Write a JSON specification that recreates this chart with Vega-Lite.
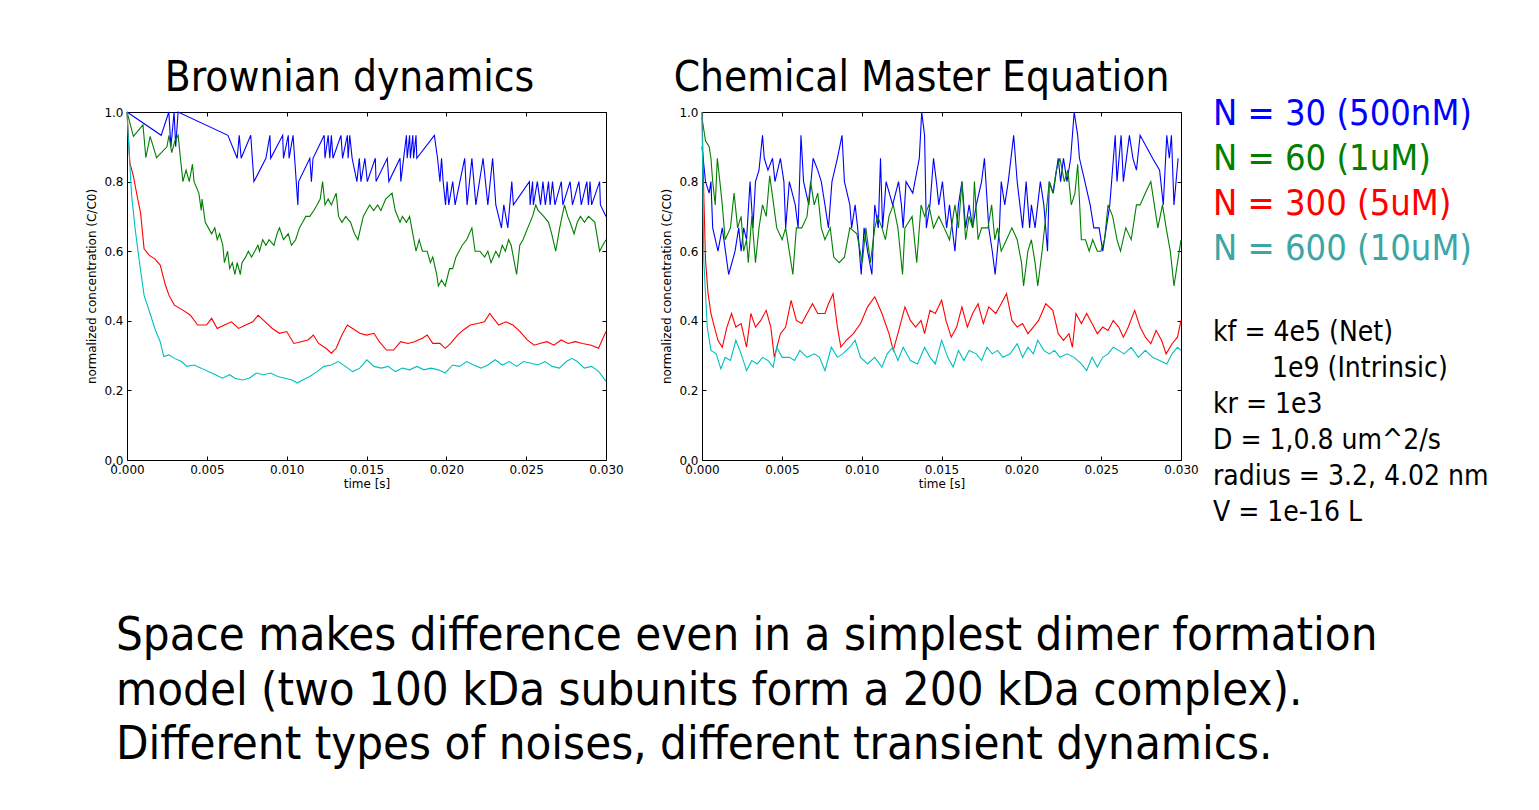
{
"$schema": "https://vega.github.io/schema/vega-lite/v6.json",
"background": "white",
"padding": {"left": 85, "top": 57, "right": 5, "bottom": 5},
"config": {
  "font": "DejaVu Sans",
  "view": {"stroke": null},
  "axis": {"grid": false, "labelFontSize": 12, "titleFontSize": 12, "titleFontWeight": "normal", "labelColor": "black", "titleColor": "black", "domainColor": "black", "tickColor": "black", "labelFlush": false, "labelOverlap": false, "labelBound": false, "tickSize": -4, "labelPadding": 8}
},
"resolve": {"scale": {"color": "independent"}},
"datasets": {
"bd": [
{"time":0,"conc":1,"N":"30"},{"time":0.00214,"conc":0.933,"N":"30"},{"time":0.00262,"conc":1,"N":"30"},{"time":0.00275,"conc":0.9,"N":"30"},{"time":0.00295,"conc":1,"N":"30"},{"time":0.00305,"conc":0.9,"N":"30"},{"time":0.0032,"conc":1,"N":"30"},{"time":0.00632,"conc":0.933,"N":"30"},{"time":0.0069,"conc":0.867,"N":"30"},{"time":0.00703,"conc":0.933,"N":"30"},{"time":0.00715,"conc":0.867,"N":"30"},{"time":0.00775,"conc":0.933,"N":"30"},{"time":0.00795,"conc":0.8,"N":"30"},{"time":0.0087,"conc":0.867,"N":"30"},{"time":0.00895,"conc":0.933,"N":"30"},{"time":0.009,"conc":0.867,"N":"30"},{"time":0.00975,"conc":0.933,"N":"30"},{"time":0.0098,"conc":0.867,"N":"30"},{"time":0.0101,"conc":0.933,"N":"30"},{"time":0.01015,"conc":0.867,"N":"30"},{"time":0.0104,"conc":0.933,"N":"30"},{"time":0.0107,"conc":0.733,"N":"30"},{"time":0.01075,"conc":0.8,"N":"30"},{"time":0.01145,"conc":0.867,"N":"30"},{"time":0.01155,"conc":0.8,"N":"30"},{"time":0.01165,"conc":0.867,"N":"30"},{"time":0.01235,"conc":0.933,"N":"30"},{"time":0.0124,"conc":0.867,"N":"30"},{"time":0.0126,"conc":0.933,"N":"30"},{"time":0.0127,"conc":0.867,"N":"30"},{"time":0.0128,"conc":0.933,"N":"30"},{"time":0.0129,"conc":0.867,"N":"30"},{"time":0.0134,"conc":0.933,"N":"30"},{"time":0.0135,"conc":0.867,"N":"30"},{"time":0.0138,"conc":0.933,"N":"30"},{"time":0.01385,"conc":0.867,"N":"30"},{"time":0.01395,"conc":0.933,"N":"30"},{"time":0.0141,"conc":0.867,"N":"30"},{"time":0.0144,"conc":0.8,"N":"30"},{"time":0.01455,"conc":0.867,"N":"30"},{"time":0.01465,"conc":0.8,"N":"30"},{"time":0.0149,"conc":0.867,"N":"30"},{"time":0.01505,"conc":0.8,"N":"30"},{"time":0.01555,"conc":0.867,"N":"30"},{"time":0.0156,"conc":0.8,"N":"30"},{"time":0.0163,"conc":0.867,"N":"30"},{"time":0.0164,"conc":0.8,"N":"30"},{"time":0.0171,"conc":0.867,"N":"30"},{"time":0.01715,"conc":0.8,"N":"30"},{"time":0.0175,"conc":0.933,"N":"30"},{"time":0.01755,"conc":0.867,"N":"30"},{"time":0.0177,"conc":0.933,"N":"30"},{"time":0.01775,"conc":0.867,"N":"30"},{"time":0.0179,"conc":0.933,"N":"30"},{"time":0.01795,"conc":0.867,"N":"30"},{"time":0.0181,"conc":0.933,"N":"30"},{"time":0.01815,"conc":0.867,"N":"30"},{"time":0.01925,"conc":0.933,"N":"30"},{"time":0.01945,"conc":0.867,"N":"30"},{"time":0.0196,"conc":0.8,"N":"30"},{"time":0.0197,"conc":0.867,"N":"30"},{"time":0.0198,"conc":0.8,"N":"30"},{"time":0.01995,"conc":0.733,"N":"30"},{"time":0.02005,"conc":0.8,"N":"30"},{"time":0.02015,"conc":0.733,"N":"30"},{"time":0.0204,"conc":0.8,"N":"30"},{"time":0.02055,"conc":0.733,"N":"30"},{"time":0.02115,"conc":0.867,"N":"30"},{"time":0.0213,"conc":0.733,"N":"30"},{"time":0.0216,"conc":0.867,"N":"30"},{"time":0.02185,"conc":0.733,"N":"30"},{"time":0.0223,"conc":0.867,"N":"30"},{"time":0.0226,"conc":0.733,"N":"30"},{"time":0.0229,"conc":0.867,"N":"30"},{"time":0.0231,"conc":0.733,"N":"30"},{"time":0.02345,"conc":0.667,"N":"30"},{"time":0.0236,"conc":0.733,"N":"30"},{"time":0.02385,"conc":0.667,"N":"30"},{"time":0.0241,"conc":0.8,"N":"30"},{"time":0.0242,"conc":0.733,"N":"30"},{"time":0.0252,"conc":0.8,"N":"30"},{"time":0.02525,"conc":0.733,"N":"30"},{"time":0.0254,"conc":0.8,"N":"30"},{"time":0.02545,"conc":0.733,"N":"30"},{"time":0.0257,"conc":0.8,"N":"30"},{"time":0.0259,"conc":0.733,"N":"30"},{"time":0.02605,"conc":0.8,"N":"30"},{"time":0.0262,"conc":0.733,"N":"30"},{"time":0.0264,"conc":0.8,"N":"30"},{"time":0.0265,"conc":0.733,"N":"30"},{"time":0.02665,"conc":0.8,"N":"30"},{"time":0.0268,"conc":0.733,"N":"30"},{"time":0.0272,"conc":0.8,"N":"30"},{"time":0.0273,"conc":0.733,"N":"30"},{"time":0.02775,"conc":0.8,"N":"30"},{"time":0.0279,"conc":0.733,"N":"30"},{"time":0.0283,"conc":0.8,"N":"30"},{"time":0.02845,"conc":0.733,"N":"30"},{"time":0.0288,"conc":0.8,"N":"30"},{"time":0.0289,"conc":0.733,"N":"30"},{"time":0.029,"conc":0.8,"N":"30"},{"time":0.0291,"conc":0.733,"N":"30"},{"time":0.0296,"conc":0.8,"N":"30"},{"time":0.02965,"conc":0.733,"N":"30"},{"time":0.03,"conc":0.7,"N":"30"},
{"time":0,"conc":1,"N":"60"},{"time":0.0004,"conc":0.93,"N":"60"},{"time":0.001,"conc":0.963,"N":"60"},{"time":0.00118,"conc":0.869,"N":"60"},{"time":0.00145,"conc":0.93,"N":"60"},{"time":0.00185,"conc":0.869,"N":"60"},{"time":0.0025,"conc":0.9,"N":"60"},{"time":0.00263,"conc":0.933,"N":"60"},{"time":0.0028,"conc":0.883,"N":"60"},{"time":0.003,"conc":0.917,"N":"60"},{"time":0.0032,"conc":0.933,"N":"60"},{"time":0.0035,"conc":0.8,"N":"60"},{"time":0.0037,"conc":0.833,"N":"60"},{"time":0.0039,"conc":0.8,"N":"60"},{"time":0.0041,"conc":0.85,"N":"60"},{"time":0.0042,"conc":0.8,"N":"60"},{"time":0.0045,"conc":0.767,"N":"60"},{"time":0.00465,"conc":0.717,"N":"60"},{"time":0.0047,"conc":0.75,"N":"60"},{"time":0.0049,"conc":0.683,"N":"60"},{"time":0.0051,"conc":0.667,"N":"60"},{"time":0.0053,"conc":0.65,"N":"60"},{"time":0.0055,"conc":0.667,"N":"60"},{"time":0.00565,"conc":0.633,"N":"60"},{"time":0.0058,"conc":0.65,"N":"60"},{"time":0.006,"conc":0.617,"N":"60"},{"time":0.0061,"conc":0.567,"N":"60"},{"time":0.0063,"conc":0.6,"N":"60"},{"time":0.00643,"conc":0.55,"N":"60"},{"time":0.0066,"conc":0.567,"N":"60"},{"time":0.00676,"conc":0.533,"N":"60"},{"time":0.0069,"conc":0.567,"N":"60"},{"time":0.0071,"conc":0.533,"N":"60"},{"time":0.0072,"conc":0.567,"N":"60"},{"time":0.00743,"conc":0.583,"N":"60"},{"time":0.0076,"conc":0.6,"N":"60"},{"time":0.0078,"conc":0.583,"N":"60"},{"time":0.008,"conc":0.6,"N":"60"},{"time":0.0082,"conc":0.617,"N":"60"},{"time":0.0083,"conc":0.6,"N":"60"},{"time":0.0085,"conc":0.633,"N":"60"},{"time":0.0087,"conc":0.617,"N":"60"},{"time":0.0089,"conc":0.633,"N":"60"},{"time":0.0092,"conc":0.617,"N":"60"},{"time":0.0094,"conc":0.65,"N":"60"},{"time":0.00955,"conc":0.667,"N":"60"},{"time":0.0098,"conc":0.633,"N":"60"},{"time":0.0101,"conc":0.65,"N":"60"},{"time":0.0103,"conc":0.617,"N":"60"},{"time":0.01056,"conc":0.633,"N":"60"},{"time":0.0108,"conc":0.667,"N":"60"},{"time":0.011,"conc":0.683,"N":"60"},{"time":0.0112,"conc":0.7,"N":"60"},{"time":0.01145,"conc":0.7,"N":"60"},{"time":0.0117,"conc":0.717,"N":"60"},{"time":0.0119,"conc":0.733,"N":"60"},{"time":0.0121,"conc":0.75,"N":"60"},{"time":0.01225,"conc":0.8,"N":"60"},{"time":0.0124,"conc":0.733,"N":"60"},{"time":0.0126,"conc":0.75,"N":"60"},{"time":0.0128,"conc":0.733,"N":"60"},{"time":0.0131,"conc":0.767,"N":"60"},{"time":0.01325,"conc":0.7,"N":"60"},{"time":0.01346,"conc":0.683,"N":"60"},{"time":0.0137,"conc":0.7,"N":"60"},{"time":0.014,"conc":0.683,"N":"60"},{"time":0.01425,"conc":0.65,"N":"60"},{"time":0.01446,"conc":0.633,"N":"60"},{"time":0.0148,"conc":0.7,"N":"60"},{"time":0.015,"conc":0.717,"N":"60"},{"time":0.0152,"conc":0.733,"N":"60"},{"time":0.01545,"conc":0.717,"N":"60"},{"time":0.0157,"conc":0.733,"N":"60"},{"time":0.0159,"conc":0.717,"N":"60"},{"time":0.0162,"conc":0.75,"N":"60"},{"time":0.0166,"conc":0.767,"N":"60"},{"time":0.0168,"conc":0.717,"N":"60"},{"time":0.0171,"conc":0.683,"N":"60"},{"time":0.01725,"conc":0.7,"N":"60"},{"time":0.0175,"conc":0.683,"N":"60"},{"time":0.0177,"conc":0.7,"N":"60"},{"time":0.0179,"conc":0.65,"N":"60"},{"time":0.0181,"conc":0.6,"N":"60"},{"time":0.0183,"conc":0.633,"N":"60"},{"time":0.0185,"conc":0.6,"N":"60"},{"time":0.0188,"conc":0.6,"N":"60"},{"time":0.019,"conc":0.567,"N":"60"},{"time":0.01915,"conc":0.583,"N":"60"},{"time":0.0194,"conc":0.533,"N":"60"},{"time":0.0195,"conc":0.5,"N":"60"},{"time":0.0197,"conc":0.517,"N":"60"},{"time":0.01993,"conc":0.5,"N":"60"},{"time":0.0202,"conc":0.55,"N":"60"},{"time":0.0204,"conc":0.55,"N":"60"},{"time":0.0206,"conc":0.583,"N":"60"},{"time":0.0208,"conc":0.6,"N":"60"},{"time":0.021,"conc":0.617,"N":"60"},{"time":0.02127,"conc":0.633,"N":"60"},{"time":0.0216,"conc":0.667,"N":"60"},{"time":0.0218,"conc":0.6,"N":"60"},{"time":0.0221,"conc":0.6,"N":"60"},{"time":0.0224,"conc":0.583,"N":"60"},{"time":0.0226,"conc":0.6,"N":"60"},{"time":0.0228,"conc":0.567,"N":"60"},{"time":0.0231,"conc":0.6,"N":"60"},{"time":0.0233,"conc":0.583,"N":"60"},{"time":0.0235,"conc":0.617,"N":"60"},{"time":0.0237,"conc":0.6,"N":"60"},{"time":0.0239,"conc":0.633,"N":"60"},{"time":0.02406,"conc":0.617,"N":"60"},{"time":0.0244,"conc":0.533,"N":"60"},{"time":0.0246,"conc":0.617,"N":"60"},{"time":0.0248,"conc":0.633,"N":"60"},{"time":0.0251,"conc":0.667,"N":"60"},{"time":0.0254,"conc":0.7,"N":"60"},{"time":0.0256,"conc":0.733,"N":"60"},{"time":0.02575,"conc":0.717,"N":"60"},{"time":0.0261,"conc":0.7,"N":"60"},{"time":0.0264,"conc":0.683,"N":"60"},{"time":0.0266,"conc":0.65,"N":"60"},{"time":0.02685,"conc":0.6,"N":"60"},{"time":0.0271,"conc":0.667,"N":"60"},{"time":0.0274,"conc":0.733,"N":"60"},{"time":0.0276,"conc":0.7,"N":"60"},{"time":0.02775,"conc":0.683,"N":"60"},{"time":0.028,"conc":0.65,"N":"60"},{"time":0.0282,"conc":0.683,"N":"60"},{"time":0.0284,"conc":0.7,"N":"60"},{"time":0.02865,"conc":0.683,"N":"60"},{"time":0.0289,"conc":0.7,"N":"60"},{"time":0.0293,"conc":0.683,"N":"60"},{"time":0.0296,"conc":0.6,"N":"60"},{"time":0.0298,"conc":0.617,"N":"60"},{"time":0.03,"conc":0.633,"N":"60"},
{"time":0,"conc":1,"N":"300"},{"time":0.00018,"conc":0.854,"N":"300"},{"time":0.0004,"conc":0.816,"N":"300"},{"time":0.00063,"conc":0.76,"N":"300"},{"time":0.00085,"conc":0.71,"N":"300"},{"time":0.00107,"conc":0.607,"N":"300"},{"time":0.0014,"conc":0.588,"N":"300"},{"time":0.00174,"conc":0.578,"N":"300"},{"time":0.00208,"conc":0.56,"N":"300"},{"time":0.00241,"conc":0.502,"N":"300"},{"time":0.00263,"conc":0.473,"N":"300"},{"time":0.00297,"conc":0.445,"N":"300"},{"time":0.00353,"conc":0.43,"N":"300"},{"time":0.00397,"conc":0.416,"N":"300"},{"time":0.00442,"conc":0.388,"N":"300"},{"time":0.00498,"conc":0.388,"N":"300"},{"time":0.0053,"conc":0.407,"N":"300"},{"time":0.00565,"conc":0.378,"N":"300"},{"time":0.0061,"conc":0.388,"N":"300"},{"time":0.00654,"conc":0.397,"N":"300"},{"time":0.00699,"conc":0.378,"N":"300"},{"time":0.00743,"conc":0.388,"N":"300"},{"time":0.00788,"conc":0.397,"N":"300"},{"time":0.00821,"conc":0.416,"N":"300"},{"time":0.00866,"conc":0.397,"N":"300"},{"time":0.0091,"conc":0.378,"N":"300"},{"time":0.00955,"conc":0.364,"N":"300"},{"time":0.01,"conc":0.369,"N":"300"},{"time":0.01045,"conc":0.335,"N":"300"},{"time":0.0109,"conc":0.34,"N":"300"},{"time":0.01134,"conc":0.345,"N":"300"},{"time":0.01167,"conc":0.359,"N":"300"},{"time":0.012,"conc":0.335,"N":"300"},{"time":0.01246,"conc":0.321,"N":"300"},{"time":0.0128,"conc":0.307,"N":"300"},{"time":0.0131,"conc":0.321,"N":"300"},{"time":0.01346,"conc":0.359,"N":"300"},{"time":0.0138,"conc":0.388,"N":"300"},{"time":0.01413,"conc":0.378,"N":"300"},{"time":0.01458,"conc":0.364,"N":"300"},{"time":0.015,"conc":0.359,"N":"300"},{"time":0.01547,"conc":0.364,"N":"300"},{"time":0.0158,"conc":0.34,"N":"300"},{"time":0.01625,"conc":0.316,"N":"300"},{"time":0.0167,"conc":0.316,"N":"300"},{"time":0.01714,"conc":0.34,"N":"300"},{"time":0.0176,"conc":0.335,"N":"300"},{"time":0.018,"conc":0.34,"N":"300"},{"time":0.0185,"conc":0.35,"N":"300"},{"time":0.0188,"conc":0.359,"N":"300"},{"time":0.01915,"conc":0.335,"N":"300"},{"time":0.0196,"conc":0.335,"N":"300"},{"time":0.01993,"conc":0.321,"N":"300"},{"time":0.02027,"conc":0.335,"N":"300"},{"time":0.0207,"conc":0.359,"N":"300"},{"time":0.02105,"conc":0.373,"N":"300"},{"time":0.0215,"conc":0.388,"N":"300"},{"time":0.02194,"conc":0.392,"N":"300"},{"time":0.02239,"conc":0.397,"N":"300"},{"time":0.02272,"conc":0.421,"N":"300"},{"time":0.02295,"conc":0.407,"N":"300"},{"time":0.02328,"conc":0.388,"N":"300"},{"time":0.02373,"conc":0.397,"N":"300"},{"time":0.02417,"conc":0.388,"N":"300"},{"time":0.02462,"conc":0.369,"N":"300"},{"time":0.02507,"conc":0.345,"N":"300"},{"time":0.0255,"conc":0.33,"N":"300"},{"time":0.02585,"conc":0.335,"N":"300"},{"time":0.0263,"conc":0.34,"N":"300"},{"time":0.02674,"conc":0.33,"N":"300"},{"time":0.02719,"conc":0.345,"N":"300"},{"time":0.02763,"conc":0.335,"N":"300"},{"time":0.02808,"conc":0.34,"N":"300"},{"time":0.02853,"conc":0.335,"N":"300"},{"time":0.02908,"conc":0.33,"N":"300"},{"time":0.02953,"conc":0.321,"N":"300"},{"time":0.03,"conc":0.369,"N":"300"},
{"time":0,"conc":1,"N":"600"},{"time":0.00011,"conc":0.902,"N":"600"},{"time":0.00029,"conc":0.76,"N":"600"},{"time":0.00051,"conc":0.664,"N":"600"},{"time":0.00078,"conc":0.569,"N":"600"},{"time":0.00107,"conc":0.473,"N":"600"},{"time":0.00141,"conc":0.426,"N":"600"},{"time":0.00174,"conc":0.378,"N":"600"},{"time":0.00208,"conc":0.34,"N":"600"},{"time":0.0023,"conc":0.297,"N":"600"},{"time":0.00263,"conc":0.302,"N":"600"},{"time":0.00297,"conc":0.292,"N":"600"},{"time":0.00342,"conc":0.283,"N":"600"},{"time":0.00375,"conc":0.269,"N":"600"},{"time":0.0042,"conc":0.273,"N":"600"},{"time":0.00464,"conc":0.264,"N":"600"},{"time":0.00509,"conc":0.254,"N":"600"},{"time":0.00554,"conc":0.245,"N":"600"},{"time":0.00598,"conc":0.235,"N":"600"},{"time":0.00643,"conc":0.245,"N":"600"},{"time":0.00676,"conc":0.235,"N":"600"},{"time":0.00721,"conc":0.23,"N":"600"},{"time":0.00766,"conc":0.235,"N":"600"},{"time":0.0081,"conc":0.25,"N":"600"},{"time":0.00855,"conc":0.245,"N":"600"},{"time":0.009,"conc":0.25,"N":"600"},{"time":0.00944,"conc":0.24,"N":"600"},{"time":0.00989,"conc":0.235,"N":"600"},{"time":0.01033,"conc":0.23,"N":"600"},{"time":0.01067,"conc":0.221,"N":"600"},{"time":0.011,"conc":0.23,"N":"600"},{"time":0.01145,"conc":0.24,"N":"600"},{"time":0.0119,"conc":0.254,"N":"600"},{"time":0.01234,"conc":0.269,"N":"600"},{"time":0.01279,"conc":0.273,"N":"600"},{"time":0.01324,"conc":0.283,"N":"600"},{"time":0.01368,"conc":0.269,"N":"600"},{"time":0.01413,"conc":0.254,"N":"600"},{"time":0.01458,"conc":0.264,"N":"600"},{"time":0.01502,"conc":0.288,"N":"600"},{"time":0.01547,"conc":0.269,"N":"600"},{"time":0.01592,"conc":0.264,"N":"600"},{"time":0.01636,"conc":0.269,"N":"600"},{"time":0.0168,"conc":0.254,"N":"600"},{"time":0.01725,"conc":0.264,"N":"600"},{"time":0.0177,"conc":0.259,"N":"600"},{"time":0.01815,"conc":0.269,"N":"600"},{"time":0.0186,"conc":0.259,"N":"600"},{"time":0.01904,"conc":0.264,"N":"600"},{"time":0.0195,"conc":0.259,"N":"600"},{"time":0.01993,"conc":0.25,"N":"600"},{"time":0.0204,"conc":0.273,"N":"600"},{"time":0.02083,"conc":0.269,"N":"600"},{"time":0.02127,"conc":0.283,"N":"600"},{"time":0.02172,"conc":0.273,"N":"600"},{"time":0.02217,"conc":0.264,"N":"600"},{"time":0.0226,"conc":0.273,"N":"600"},{"time":0.02306,"conc":0.288,"N":"600"},{"time":0.0235,"conc":0.273,"N":"600"},{"time":0.02395,"conc":0.283,"N":"600"},{"time":0.0244,"conc":0.269,"N":"600"},{"time":0.02484,"conc":0.283,"N":"600"},{"time":0.0253,"conc":0.278,"N":"600"},{"time":0.02574,"conc":0.273,"N":"600"},{"time":0.02618,"conc":0.283,"N":"600"},{"time":0.02663,"conc":0.269,"N":"600"},{"time":0.02708,"conc":0.264,"N":"600"},{"time":0.02752,"conc":0.283,"N":"600"},{"time":0.02786,"conc":0.292,"N":"600"},{"time":0.0282,"conc":0.283,"N":"600"},{"time":0.02864,"conc":0.264,"N":"600"},{"time":0.0291,"conc":0.269,"N":"600"},{"time":0.02955,"conc":0.254,"N":"600"},{"time":0.03,"conc":0.226,"N":"600"}
],
"cme": [
{"time":0,"conc":0.9,"N":"30"},{"time":0.00022,"conc":0.8,"N":"30"},{"time":0.00045,"conc":0.767,"N":"30"},{"time":0.00056,"conc":0.8,"N":"30"},{"time":0.00067,"conc":0.667,"N":"30"},{"time":0.001,"conc":0.6,"N":"30"},{"time":0.00127,"conc":0.667,"N":"30"},{"time":0.00167,"conc":0.533,"N":"30"},{"time":0.00207,"conc":0.6,"N":"30"},{"time":0.0023,"conc":0.667,"N":"30"},{"time":0.00245,"conc":0.6,"N":"30"},{"time":0.00261,"conc":0.667,"N":"30"},{"time":0.00279,"conc":0.633,"N":"30"},{"time":0.00301,"conc":0.8,"N":"30"},{"time":0.00319,"conc":0.667,"N":"30"},{"time":0.00335,"conc":0.8,"N":"30"},{"time":0.00357,"conc":0.833,"N":"30"},{"time":0.00379,"conc":0.933,"N":"30"},{"time":0.0039,"conc":0.867,"N":"30"},{"time":0.00413,"conc":0.833,"N":"30"},{"time":0.00442,"conc":0.867,"N":"30"},{"time":0.00457,"conc":0.8,"N":"30"},{"time":0.00491,"conc":0.867,"N":"30"},{"time":0.00513,"conc":0.8,"N":"30"},{"time":0.00524,"conc":0.667,"N":"30"},{"time":0.00547,"conc":0.8,"N":"30"},{"time":0.00584,"conc":0.733,"N":"30"},{"time":0.00602,"conc":0.667,"N":"30"},{"time":0.0062,"conc":0.933,"N":"30"},{"time":0.00636,"conc":0.8,"N":"30"},{"time":0.00669,"conc":0.733,"N":"30"},{"time":0.00696,"conc":0.867,"N":"30"},{"time":0.00725,"conc":0.833,"N":"30"},{"time":0.00747,"conc":0.8,"N":"30"},{"time":0.0077,"conc":0.733,"N":"30"},{"time":0.00792,"conc":0.667,"N":"30"},{"time":0.00814,"conc":0.8,"N":"30"},{"time":0.00848,"conc":0.867,"N":"30"},{"time":0.00877,"conc":0.933,"N":"30"},{"time":0.00892,"conc":0.8,"N":"30"},{"time":0.00926,"conc":0.733,"N":"30"},{"time":0.00937,"conc":0.667,"N":"30"},{"time":0.00959,"conc":0.733,"N":"30"},{"time":0.00975,"conc":0.667,"N":"30"},{"time":0.00997,"conc":0.533,"N":"30"},{"time":0.01015,"conc":0.667,"N":"30"},{"time":0.01037,"conc":0.6,"N":"30"},{"time":0.01064,"conc":0.533,"N":"30"},{"time":0.01082,"conc":0.733,"N":"30"},{"time":0.01104,"conc":0.667,"N":"30"},{"time":0.01118,"conc":0.867,"N":"30"},{"time":0.01131,"conc":0.667,"N":"30"},{"time":0.01153,"conc":0.8,"N":"30"},{"time":0.01194,"conc":0.733,"N":"30"},{"time":0.01231,"conc":0.8,"N":"30"},{"time":0.01249,"conc":0.733,"N":"30"},{"time":0.0126,"conc":0.667,"N":"30"},{"time":0.01278,"conc":0.8,"N":"30"},{"time":0.0132,"conc":0.767,"N":"30"},{"time":0.01361,"conc":0.867,"N":"30"},{"time":0.01376,"conc":1,"N":"30"},{"time":0.01394,"conc":0.933,"N":"30"},{"time":0.01405,"conc":0.667,"N":"30"},{"time":0.01428,"conc":0.733,"N":"30"},{"time":0.0145,"conc":0.867,"N":"30"},{"time":0.01468,"conc":0.8,"N":"30"},{"time":0.01483,"conc":0.733,"N":"30"},{"time":0.01506,"conc":0.8,"N":"30"},{"time":0.01532,"conc":0.667,"N":"30"},{"time":0.0155,"conc":0.733,"N":"30"},{"time":0.01584,"conc":0.6,"N":"30"},{"time":0.01606,"conc":0.733,"N":"30"},{"time":0.01628,"conc":0.8,"N":"30"},{"time":0.01651,"conc":0.667,"N":"30"},{"time":0.01673,"conc":0.733,"N":"30"},{"time":0.01695,"conc":0.667,"N":"30"},{"time":0.01718,"conc":0.733,"N":"30"},{"time":0.01751,"conc":0.8,"N":"30"},{"time":0.01769,"conc":0.867,"N":"30"},{"time":0.01796,"conc":0.667,"N":"30"},{"time":0.01818,"conc":0.6,"N":"30"},{"time":0.01836,"conc":0.533,"N":"30"},{"time":0.01863,"conc":0.667,"N":"30"},{"time":0.01874,"conc":0.8,"N":"30"},{"time":0.01896,"conc":0.733,"N":"30"},{"time":0.01918,"conc":0.8,"N":"30"},{"time":0.01952,"conc":0.933,"N":"30"},{"time":0.01974,"conc":0.8,"N":"30"},{"time":0.02008,"conc":0.667,"N":"30"},{"time":0.0203,"conc":0.8,"N":"30"},{"time":0.02052,"conc":0.667,"N":"30"},{"time":0.02063,"conc":0.733,"N":"30"},{"time":0.02086,"conc":0.667,"N":"30"},{"time":0.02119,"conc":0.8,"N":"30"},{"time":0.02141,"conc":0.733,"N":"30"},{"time":0.02164,"conc":0.6,"N":"30"},{"time":0.02175,"conc":0.8,"N":"30"},{"time":0.022,"conc":0.767,"N":"30"},{"time":0.02231,"conc":0.867,"N":"30"},{"time":0.02246,"conc":0.8,"N":"30"},{"time":0.02264,"conc":0.867,"N":"30"},{"time":0.02286,"conc":0.8,"N":"30"},{"time":0.02309,"conc":0.867,"N":"30"},{"time":0.02331,"conc":1,"N":"30"},{"time":0.02353,"conc":0.933,"N":"30"},{"time":0.02364,"conc":0.867,"N":"30"},{"time":0.02398,"conc":0.8,"N":"30"},{"time":0.02431,"conc":0.733,"N":"30"},{"time":0.02454,"conc":0.667,"N":"30"},{"time":0.02487,"conc":0.667,"N":"30"},{"time":0.0251,"conc":0.6,"N":"30"},{"time":0.02532,"conc":0.667,"N":"30"},{"time":0.02554,"conc":0.733,"N":"30"},{"time":0.02588,"conc":0.933,"N":"30"},{"time":0.02599,"conc":0.8,"N":"30"},{"time":0.02625,"conc":0.933,"N":"30"},{"time":0.02639,"conc":0.8,"N":"30"},{"time":0.02677,"conc":0.933,"N":"30"},{"time":0.02699,"conc":0.867,"N":"30"},{"time":0.02721,"conc":0.833,"N":"30"},{"time":0.02744,"conc":0.933,"N":"30"},{"time":0.02822,"conc":0.867,"N":"30"},{"time":0.02866,"conc":0.833,"N":"30"},{"time":0.02889,"conc":0.733,"N":"30"},{"time":0.02911,"conc":0.933,"N":"30"},{"time":0.02927,"conc":0.867,"N":"30"},{"time":0.0294,"conc":0.933,"N":"30"},{"time":0.02956,"conc":0.733,"N":"30"},{"time":0.02982,"conc":0.867,"N":"30"},
{"time":0,"conc":0.983,"N":"60"},{"time":0.00022,"conc":0.917,"N":"60"},{"time":0.00045,"conc":0.9,"N":"60"},{"time":0.00056,"conc":0.867,"N":"60"},{"time":0.00067,"conc":0.8,"N":"60"},{"time":0.00083,"conc":0.733,"N":"60"},{"time":0.00096,"conc":0.867,"N":"60"},{"time":0.00112,"conc":0.8,"N":"60"},{"time":0.00127,"conc":0.733,"N":"60"},{"time":0.00145,"conc":0.633,"N":"60"},{"time":0.00178,"conc":0.667,"N":"60"},{"time":0.00201,"conc":0.767,"N":"60"},{"time":0.00223,"conc":0.667,"N":"60"},{"time":0.00245,"conc":0.7,"N":"60"},{"time":0.00261,"conc":0.6,"N":"60"},{"time":0.00279,"conc":0.633,"N":"60"},{"time":0.0029,"conc":0.567,"N":"60"},{"time":0.00312,"conc":0.7,"N":"60"},{"time":0.00335,"conc":0.567,"N":"60"},{"time":0.00357,"conc":0.667,"N":"60"},{"time":0.00379,"conc":0.733,"N":"60"},{"time":0.00402,"conc":0.7,"N":"60"},{"time":0.00424,"conc":0.817,"N":"60"},{"time":0.00439,"conc":0.767,"N":"60"},{"time":0.00468,"conc":0.667,"N":"60"},{"time":0.00502,"conc":0.633,"N":"60"},{"time":0.00524,"conc":0.667,"N":"60"},{"time":0.00569,"conc":0.533,"N":"60"},{"time":0.00591,"conc":0.667,"N":"60"},{"time":0.00625,"conc":0.667,"N":"60"},{"time":0.00658,"conc":0.7,"N":"60"},{"time":0.0068,"conc":0.8,"N":"60"},{"time":0.00703,"conc":0.733,"N":"60"},{"time":0.00725,"conc":0.767,"N":"60"},{"time":0.00747,"conc":0.667,"N":"60"},{"time":0.0077,"conc":0.633,"N":"60"},{"time":0.00803,"conc":0.667,"N":"60"},{"time":0.00825,"conc":0.583,"N":"60"},{"time":0.00859,"conc":0.567,"N":"60"},{"time":0.00892,"conc":0.583,"N":"60"},{"time":0.00926,"conc":0.667,"N":"60"},{"time":0.0097,"conc":0.65,"N":"60"},{"time":0.01004,"conc":0.567,"N":"60"},{"time":0.01026,"conc":0.667,"N":"60"},{"time":0.01055,"conc":0.567,"N":"60"},{"time":0.01082,"conc":0.667,"N":"60"},{"time":0.011,"conc":0.7,"N":"60"},{"time":0.01127,"conc":0.667,"N":"60"},{"time":0.01149,"conc":0.633,"N":"60"},{"time":0.01171,"conc":0.7,"N":"60"},{"time":0.01198,"conc":0.733,"N":"60"},{"time":0.01227,"conc":0.667,"N":"60"},{"time":0.01256,"conc":0.533,"N":"60"},{"time":0.01271,"conc":0.667,"N":"60"},{"time":0.01316,"conc":0.7,"N":"60"},{"time":0.01345,"conc":0.567,"N":"60"},{"time":0.01372,"conc":0.733,"N":"60"},{"time":0.01394,"conc":0.7,"N":"60"},{"time":0.01421,"conc":0.733,"N":"60"},{"time":0.0145,"conc":0.667,"N":"60"},{"time":0.01483,"conc":0.7,"N":"60"},{"time":0.01517,"conc":0.667,"N":"60"},{"time":0.0155,"conc":0.633,"N":"60"},{"time":0.01584,"conc":0.733,"N":"60"},{"time":0.01606,"conc":0.667,"N":"60"},{"time":0.01628,"conc":0.8,"N":"60"},{"time":0.01651,"conc":0.633,"N":"60"},{"time":0.01673,"conc":0.7,"N":"60"},{"time":0.01695,"conc":0.667,"N":"60"},{"time":0.01706,"conc":0.8,"N":"60"},{"time":0.01729,"conc":0.633,"N":"60"},{"time":0.01751,"conc":0.667,"N":"60"},{"time":0.01791,"conc":0.667,"N":"60"},{"time":0.01814,"conc":0.733,"N":"60"},{"time":0.01834,"conc":0.633,"N":"60"},{"time":0.01851,"conc":0.667,"N":"60"},{"time":0.01874,"conc":0.6,"N":"60"},{"time":0.01907,"conc":0.633,"N":"60"},{"time":0.01941,"conc":0.667,"N":"60"},{"time":0.01974,"conc":0.633,"N":"60"},{"time":0.02001,"conc":0.567,"N":"60"},{"time":0.02014,"conc":0.5,"N":"60"},{"time":0.02041,"conc":0.6,"N":"60"},{"time":0.02063,"conc":0.633,"N":"60"},{"time":0.02086,"conc":0.567,"N":"60"},{"time":0.02103,"conc":0.5,"N":"60"},{"time":0.0213,"conc":0.6,"N":"60"},{"time":0.02153,"conc":0.7,"N":"60"},{"time":0.02175,"conc":0.8,"N":"60"},{"time":0.02197,"conc":0.767,"N":"60"},{"time":0.02219,"conc":0.833,"N":"60"},{"time":0.02242,"conc":0.867,"N":"60"},{"time":0.02269,"conc":0.8,"N":"60"},{"time":0.02291,"conc":0.833,"N":"60"},{"time":0.02313,"conc":0.733,"N":"60"},{"time":0.02336,"conc":0.767,"N":"60"},{"time":0.02353,"conc":0.85,"N":"60"},{"time":0.02376,"conc":0.633,"N":"60"},{"time":0.02402,"conc":0.633,"N":"60"},{"time":0.02425,"conc":0.6,"N":"60"},{"time":0.02447,"conc":0.633,"N":"60"},{"time":0.02476,"conc":0.6,"N":"60"},{"time":0.02498,"conc":0.6,"N":"60"},{"time":0.02521,"conc":0.633,"N":"60"},{"time":0.02543,"conc":0.733,"N":"60"},{"time":0.02572,"conc":0.7,"N":"60"},{"time":0.02599,"conc":0.633,"N":"60"},{"time":0.02621,"conc":0.6,"N":"60"},{"time":0.02654,"conc":0.667,"N":"60"},{"time":0.02688,"conc":0.633,"N":"60"},{"time":0.02721,"conc":0.733,"N":"60"},{"time":0.02744,"conc":0.733,"N":"60"},{"time":0.02777,"conc":0.767,"N":"60"},{"time":0.02811,"conc":0.8,"N":"60"},{"time":0.02833,"conc":0.733,"N":"60"},{"time":0.02855,"conc":0.667,"N":"60"},{"time":0.02884,"conc":0.733,"N":"60"},{"time":0.02907,"conc":0.667,"N":"60"},{"time":0.02933,"conc":0.6,"N":"60"},{"time":0.02956,"conc":0.5,"N":"60"},{"time":0.02978,"conc":0.567,"N":"60"},{"time":0.03,"conc":0.633,"N":"60"},
{"time":0,"conc":1,"N":"300"},{"time":0.00011,"conc":0.767,"N":"300"},{"time":0.00022,"conc":0.575,"N":"300"},{"time":0.00038,"conc":0.478,"N":"300"},{"time":0.00056,"conc":0.421,"N":"300"},{"time":0.00078,"conc":0.382,"N":"300"},{"time":0.001,"conc":0.344,"N":"300"},{"time":0.00127,"conc":0.324,"N":"300"},{"time":0.00156,"conc":0.382,"N":"300"},{"time":0.00185,"conc":0.421,"N":"300"},{"time":0.00212,"conc":0.382,"N":"300"},{"time":0.00245,"conc":0.392,"N":"300"},{"time":0.00279,"conc":0.324,"N":"300"},{"time":0.00306,"conc":0.421,"N":"300"},{"time":0.00335,"conc":0.382,"N":"300"},{"time":0.00368,"conc":0.401,"N":"300"},{"time":0.00402,"conc":0.43,"N":"300"},{"time":0.00431,"conc":0.382,"N":"300"},{"time":0.00453,"conc":0.295,"N":"300"},{"time":0.00491,"conc":0.363,"N":"300"},{"time":0.00524,"conc":0.382,"N":"300"},{"time":0.00558,"conc":0.459,"N":"300"},{"time":0.00591,"conc":0.401,"N":"300"},{"time":0.00625,"conc":0.392,"N":"300"},{"time":0.00658,"conc":0.421,"N":"300"},{"time":0.00692,"conc":0.449,"N":"300"},{"time":0.00725,"conc":0.421,"N":"300"},{"time":0.0077,"conc":0.421,"N":"300"},{"time":0.00792,"conc":0.449,"N":"300"},{"time":0.00821,"conc":0.478,"N":"300"},{"time":0.00848,"conc":0.382,"N":"300"},{"time":0.0087,"conc":0.324,"N":"300"},{"time":0.00903,"conc":0.344,"N":"300"},{"time":0.00948,"conc":0.363,"N":"300"},{"time":0.00993,"conc":0.392,"N":"300"},{"time":0.01037,"conc":0.44,"N":"300"},{"time":0.01082,"conc":0.469,"N":"300"},{"time":0.01127,"conc":0.421,"N":"300"},{"time":0.01171,"conc":0.363,"N":"300"},{"time":0.01198,"conc":0.315,"N":"300"},{"time":0.01227,"conc":0.363,"N":"300"},{"time":0.01271,"conc":0.44,"N":"300"},{"time":0.01305,"conc":0.401,"N":"300"},{"time":0.01338,"conc":0.382,"N":"300"},{"time":0.01372,"conc":0.401,"N":"300"},{"time":0.01394,"conc":0.363,"N":"300"},{"time":0.01428,"conc":0.43,"N":"300"},{"time":0.01461,"conc":0.421,"N":"300"},{"time":0.01501,"conc":0.459,"N":"300"},{"time":0.01528,"conc":0.401,"N":"300"},{"time":0.01561,"conc":0.353,"N":"300"},{"time":0.01595,"conc":0.382,"N":"300"},{"time":0.01628,"conc":0.44,"N":"300"},{"time":0.01662,"conc":0.382,"N":"300"},{"time":0.01695,"conc":0.421,"N":"300"},{"time":0.01729,"conc":0.449,"N":"300"},{"time":0.01762,"conc":0.392,"N":"300"},{"time":0.01796,"conc":0.44,"N":"300"},{"time":0.0184,"conc":0.421,"N":"300"},{"time":0.01874,"conc":0.449,"N":"300"},{"time":0.01907,"conc":0.478,"N":"300"},{"time":0.01941,"conc":0.401,"N":"300"},{"time":0.01974,"conc":0.382,"N":"300"},{"time":0.02008,"conc":0.392,"N":"300"},{"time":0.02041,"conc":0.363,"N":"300"},{"time":0.02075,"conc":0.382,"N":"300"},{"time":0.02108,"conc":0.401,"N":"300"},{"time":0.02153,"conc":0.449,"N":"300"},{"time":0.02197,"conc":0.43,"N":"300"},{"time":0.02231,"conc":0.363,"N":"300"},{"time":0.02264,"conc":0.344,"N":"300"},{"time":0.02298,"conc":0.363,"N":"300"},{"time":0.0232,"conc":0.324,"N":"300"},{"time":0.02342,"conc":0.421,"N":"300"},{"time":0.02376,"conc":0.392,"N":"300"},{"time":0.02409,"conc":0.421,"N":"300"},{"time":0.02443,"conc":0.392,"N":"300"},{"time":0.02476,"conc":0.363,"N":"300"},{"time":0.0251,"conc":0.382,"N":"300"},{"time":0.02543,"conc":0.372,"N":"300"},{"time":0.02576,"conc":0.401,"N":"300"},{"time":0.0261,"conc":0.382,"N":"300"},{"time":0.02639,"conc":0.353,"N":"300"},{"time":0.0267,"conc":0.382,"N":"300"},{"time":0.0271,"conc":0.43,"N":"300"},{"time":0.02744,"conc":0.382,"N":"300"},{"time":0.02777,"conc":0.353,"N":"300"},{"time":0.02811,"conc":0.334,"N":"300"},{"time":0.02844,"conc":0.372,"N":"300"},{"time":0.02878,"conc":0.344,"N":"300"},{"time":0.02907,"conc":0.305,"N":"300"},{"time":0.02944,"conc":0.334,"N":"300"},{"time":0.02978,"conc":0.353,"N":"300"},{"time":0.03,"conc":0.401,"N":"300"},
{"time":0,"conc":1,"N":"600"},{"time":0.00011,"conc":0.575,"N":"600"},{"time":0.00033,"conc":0.382,"N":"600"},{"time":0.00056,"conc":0.315,"N":"600"},{"time":0.00089,"conc":0.305,"N":"600"},{"time":0.00118,"conc":0.262,"N":"600"},{"time":0.00145,"conc":0.295,"N":"600"},{"time":0.00178,"conc":0.286,"N":"600"},{"time":0.00212,"conc":0.344,"N":"600"},{"time":0.00245,"conc":0.305,"N":"600"},{"time":0.00279,"conc":0.257,"N":"600"},{"time":0.00312,"conc":0.286,"N":"600"},{"time":0.00346,"conc":0.276,"N":"600"},{"time":0.00379,"conc":0.295,"N":"600"},{"time":0.00413,"conc":0.286,"N":"600"},{"time":0.00446,"conc":0.267,"N":"600"},{"time":0.00468,"conc":0.324,"N":"600"},{"time":0.00502,"conc":0.295,"N":"600"},{"time":0.00547,"conc":0.295,"N":"600"},{"time":0.0058,"conc":0.286,"N":"600"},{"time":0.00613,"conc":0.315,"N":"600"},{"time":0.00658,"conc":0.295,"N":"600"},{"time":0.00703,"conc":0.305,"N":"600"},{"time":0.00736,"conc":0.295,"N":"600"},{"time":0.0077,"conc":0.257,"N":"600"},{"time":0.0081,"conc":0.324,"N":"600"},{"time":0.00848,"conc":0.295,"N":"600"},{"time":0.00881,"conc":0.305,"N":"600"},{"time":0.00926,"conc":0.324,"N":"600"},{"time":0.00959,"conc":0.344,"N":"600"},{"time":0.00993,"conc":0.295,"N":"600"},{"time":0.01037,"conc":0.276,"N":"600"},{"time":0.01082,"conc":0.295,"N":"600"},{"time":0.01127,"conc":0.267,"N":"600"},{"time":0.0116,"conc":0.305,"N":"600"},{"time":0.01194,"conc":0.324,"N":"600"},{"time":0.01227,"conc":0.286,"N":"600"},{"time":0.0126,"conc":0.324,"N":"600"},{"time":0.01305,"conc":0.286,"N":"600"},{"time":0.0135,"conc":0.276,"N":"600"},{"time":0.01394,"conc":0.324,"N":"600"},{"time":0.01428,"conc":0.295,"N":"600"},{"time":0.01461,"conc":0.276,"N":"600"},{"time":0.01501,"conc":0.344,"N":"600"},{"time":0.01539,"conc":0.295,"N":"600"},{"time":0.01573,"conc":0.267,"N":"600"},{"time":0.01606,"conc":0.315,"N":"600"},{"time":0.0164,"conc":0.286,"N":"600"},{"time":0.01673,"conc":0.315,"N":"600"},{"time":0.01718,"conc":0.305,"N":"600"},{"time":0.01751,"conc":0.286,"N":"600"},{"time":0.01785,"conc":0.324,"N":"600"},{"time":0.01818,"conc":0.305,"N":"600"},{"time":0.01851,"conc":0.315,"N":"600"},{"time":0.01885,"conc":0.295,"N":"600"},{"time":0.0193,"conc":0.305,"N":"600"},{"time":0.01974,"conc":0.334,"N":"600"},{"time":0.02008,"conc":0.295,"N":"600"},{"time":0.02041,"conc":0.324,"N":"600"},{"time":0.02075,"conc":0.305,"N":"600"},{"time":0.02103,"conc":0.344,"N":"600"},{"time":0.02141,"conc":0.315,"N":"600"},{"time":0.02175,"conc":0.305,"N":"600"},{"time":0.02208,"conc":0.315,"N":"600"},{"time":0.02242,"conc":0.295,"N":"600"},{"time":0.02286,"conc":0.305,"N":"600"},{"time":0.02331,"conc":0.295,"N":"600"},{"time":0.02376,"conc":0.276,"N":"600"},{"time":0.02409,"conc":0.257,"N":"600"},{"time":0.02443,"conc":0.295,"N":"600"},{"time":0.02476,"conc":0.267,"N":"600"},{"time":0.0251,"conc":0.295,"N":"600"},{"time":0.02543,"conc":0.305,"N":"600"},{"time":0.02576,"conc":0.324,"N":"600"},{"time":0.0261,"conc":0.315,"N":"600"},{"time":0.02643,"conc":0.305,"N":"600"},{"time":0.02688,"conc":0.324,"N":"600"},{"time":0.02733,"conc":0.295,"N":"600"},{"time":0.02777,"conc":0.315,"N":"600"},{"time":0.02822,"conc":0.295,"N":"600"},{"time":0.02866,"conc":0.286,"N":"600"},{"time":0.02911,"conc":0.276,"N":"600"},{"time":0.02944,"conc":0.305,"N":"600"},{"time":0.02978,"conc":0.324,"N":"600"},{"time":0.03,"conc":0.315,"N":"600"}
],
"legend": [
{"line":1,"label":"N = 30 (500nM)","series":"30"},
{"line":2,"label":"N = 60 (1uM)","series":"60"},
{"line":3,"label":"N = 300 (5uM)","series":"300"},
{"line":4,"label":"N = 600 (10uM)","series":"600"}
],
"params": [
{"line":1,"indent":0,"label":"kf = 4e5 (Net)"},
{"line":2,"indent":1,"label":"1e9 (Intrinsic)"},
{"line":3,"indent":0,"label":"kr = 1e3"},
{"line":4,"indent":0,"label":"D = 1,0.8 um^2/s"},
{"line":5,"indent":0,"label":"radius = 3.2, 4.02 nm"},
{"line":6,"indent":0,"label":"V = 1e-16 L"}
],
"body": [
{"line":1,"label":"Space makes difference even in a simplest dimer formation"},
{"line":2,"label":"model (two 100 kDa subunits form a 200 kDa complex)."},
{"line":3,"label":"Different types of noises, different transient dynamics."}
]
},
"vconcat": [
  {
    "resolve": {"scale": {"color": "independent"}},
    "spacing": 14,
    "hconcat": [
      {
        "spacing": 36,
        "hconcat": [
          {
            "title": {"text": "Brownian dynamics", "font": "DejaVu Sans Condensed", "fontSize": 42, "fontWeight": "normal", "color": "black", "offset": 6, "dx": -17},
            "width": 479, "height": 348,
            "data": {"name": "bd"},
            "resolve": {"axis": {"x": "independent", "y": "independent"}},
            "layer": [
              {
                "mark": {"type": "line", "strokeWidth": 1.1},
                "encoding": {
                  "x": {"field": "time", "type": "quantitative", "scale": {"domain": [0, 0.03], "nice": false, "zero": false}, "axis": {"title": "time [s]", "values": [0, 0.005, 0.01, 0.015, 0.02, 0.025, 0.03], "format": ".3f", "titlePadding": 3}},
                  "y": {"field": "conc", "type": "quantitative", "scale": {"domain": [0, 1], "nice": false}, "axis": {"title": "normalized concentration (C/C0)", "values": [0, 0.2, 0.4, 0.6, 0.8, 1], "format": ".1f", "titlePadding": 5}},
                  "color": {"field": "N", "type": "nominal", "scale": {"domain": ["30", "60", "300", "600"], "range": ["#0000ff", "#008000", "#ff0000", "#00bfbf"]}, "legend": null}
                }
              },
              {
                "mark": {"type": "line", "opacity": 0},
                "encoding": {
                  "x": {"field": "time", "type": "quantitative", "axis": {"orient": "top", "labels": false, "title": null, "values": [0, 0.005, 0.01, 0.015, 0.02, 0.025, 0.03]}},
                  "y": {"field": "conc", "type": "quantitative", "axis": {"orient": "right", "labels": false, "title": null, "values": [0, 0.2, 0.4, 0.6, 0.8, 1]}},
                  "detail": {"field": "N"}
                }
              }
            ]
          },
          {
            "title": {"text": "Chemical Master Equation", "font": "DejaVu Sans Condensed", "fontSize": 42, "fontWeight": "normal", "color": "black", "offset": 6, "dx": -20},
            "width": 479, "height": 348,
            "data": {"name": "cme"},
            "resolve": {"axis": {"x": "independent", "y": "independent"}},
            "layer": [
              {
                "mark": {"type": "line", "strokeWidth": 1.1},
                "encoding": {
                  "x": {"field": "time", "type": "quantitative", "scale": {"domain": [0, 0.03], "nice": false, "zero": false}, "axis": {"title": "time [s]", "values": [0, 0.005, 0.01, 0.015, 0.02, 0.025, 0.03], "format": ".3f", "titlePadding": 3}},
                  "y": {"field": "conc", "type": "quantitative", "scale": {"domain": [0, 1], "nice": false}, "axis": {"title": "normalized concentration (C/C0)", "values": [0, 0.2, 0.4, 0.6, 0.8, 1], "format": ".1f", "titlePadding": 5}},
                  "color": {"field": "N", "type": "nominal", "scale": {"domain": ["30", "60", "300", "600"], "range": ["#0000ff", "#008000", "#ff0000", "#00bfbf"]}, "legend": null}
                }
              },
              {
                "mark": {"type": "line", "opacity": 0},
                "encoding": {
                  "x": {"field": "time", "type": "quantitative", "axis": {"orient": "top", "labels": false, "title": null, "values": [0, 0.005, 0.01, 0.015, 0.02, 0.025, 0.03]}},
                  "y": {"field": "conc", "type": "quantitative", "axis": {"orient": "right", "labels": false, "title": null, "values": [0, 0.2, 0.4, 0.6, 0.8, 1]}},
                  "detail": {"field": "N"}
                }
              }
            ]
          }
        ]
      },
      {
        "spacing": 47,
        "resolve": {"scale": {"color": "independent"}},
        "vconcat": [
          {
            "data": {"name": "legend"},
            "width": 295,
            "height": {"step": 45},
            "mark": {"type": "text", "align": "left", "baseline": "middle", "font": "DejaVu Sans Condensed", "fontSize": 36},
            "encoding": {
              "x": {"value": 0},
              "y": {"field": "line", "type": "ordinal", "axis": null, "scale": {"padding": 0.05}},
              "text": {"field": "label"},
              "color": {"field": "series", "type": "nominal", "scale": {"domain": ["30", "60", "300", "600"], "range": ["#0000ff", "#008000", "#ff0000", "#3aa6a6"]}, "legend": null}
            }
          },
          {
            "data": {"name": "params"},
            "width": 295,
            "height": {"step": 36},
            "mark": {"type": "text", "align": "left", "baseline": "middle", "font": "DejaVu Sans Condensed", "fontSize": 28, "color": "black"},
            "encoding": {
              "x": {"field": "indent", "type": "quantitative", "axis": null, "scale": {"domain": [0, 5]}},
              "y": {"field": "line", "type": "ordinal", "axis": null},
              "text": {"field": "label"}
            }
          }
        ]
      }
    ]
  },
  {
    "data": {"name": "body"},
    "width": 1380,
    "height": {"step": 54.5},
    "mark": {"type": "text", "align": "left", "baseline": "middle", "font": "DejaVu Sans Condensed", "fontSize": 47, "color": "black", "dx": -11},
    "encoding": {
      "x": {"value": 0},
      "y": {"field": "line", "type": "ordinal", "axis": null},
      "text": {"field": "label"}
    }
  }
],
"spacing": 78
}
